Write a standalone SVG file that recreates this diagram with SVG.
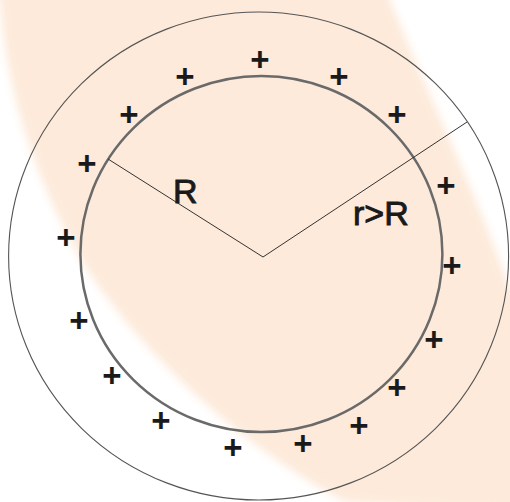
<svg xmlns="http://www.w3.org/2000/svg" width="510" height="502" viewBox="0 0 510 502">
<defs>
<filter id="soft" x="-10%" y="-10%" width="120%" height="120%"><feGaussianBlur stdDeviation="4"/></filter>
<style>
.plus{font-family:"Liberation Sans",Arial,sans-serif;font-weight:bold;font-size:33px;fill:#1a1a1a;text-anchor:middle}
.lbl{font-family:"Liberation Sans",Arial,sans-serif;font-size:34px;fill:#1a1a1a;stroke:#1a1a1a;stroke-width:0.9}
.rad{stroke:#333;stroke-width:1;fill:none}
</style>
</defs>
<rect width="510" height="502" fill="#fff"/>
<g id="background">
<path d="M-10,-10 L0,0 C5,80 30,170 80,258 C130,340 230,440 345,502 L520,512 L520,290 L510,290 C480,200 430,100 390,0 L390,-10 Z" fill="#FDEADA" filter="url(#soft)"/>
</g>
<g id="outer-circle"><ellipse cx="258.6" cy="256" rx="250" ry="244" fill="none" stroke="#555" stroke-width="1.1"/></g>
<g id="inner-circle"><ellipse cx="261.4" cy="254" rx="181" ry="178" fill="none" stroke="#6a6a6a" stroke-width="2.5"/></g>
<g id="connectors">
<line class="rad" x1="263" y1="257" x2="108" y2="159"/>
<line class="rad" x1="263" y1="257" x2="467" y2="122"/>
</g>
<g id="labels">
<text class="lbl" x="173" y="203">R</text>
<text class="lbl" x="353" y="225">r&gt;R</text>
</g>
<g id="charges">
<text class="plus" x="185" y="88">+</text>
<text class="plus" x="260" y="71">+</text>
<text class="plus" x="339" y="88">+</text>
<text class="plus" x="129" y="126">+</text>
<text class="plus" x="397" y="126">+</text>
<text class="plus" x="87" y="175">+</text>
<text class="plus" x="446" y="197">+</text>
<text class="plus" x="66" y="249">+</text>
<text class="plus" x="452" y="277">+</text>
<text class="plus" x="79" y="332">+</text>
<text class="plus" x="434" y="351">+</text>
<text class="plus" x="112" y="387">+</text>
<text class="plus" x="397" y="399">+</text>
<text class="plus" x="161" y="432">+</text>
<text class="plus" x="359" y="437">+</text>
<text class="plus" x="233" y="459">+</text>
<text class="plus" x="303" y="455">+</text>
</g>
</svg>
